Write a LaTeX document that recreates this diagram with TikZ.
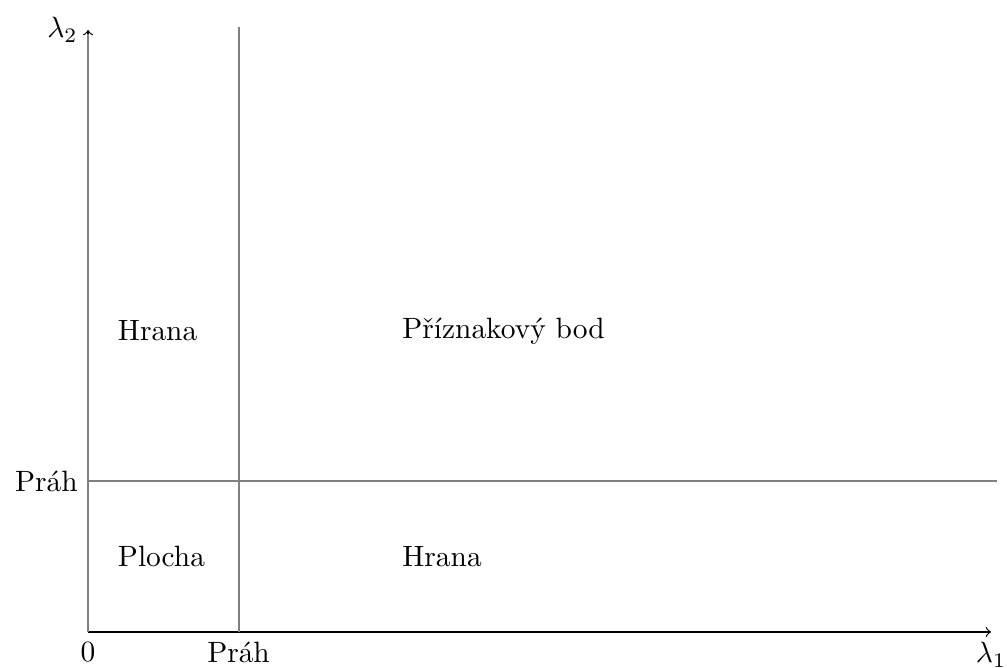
\documentclass[tikz,border=0pt]{standalone}
\begin{document}
\begin{tikzpicture}[x=1.8cm,y=1.8cm,
  thr/.style={draw=gray,line width=0.7pt},
  axis/.style={->,black},
  region/.style={anchor=west}]
\useasboundingbox (-0.585,-0.239) rectangle (6.106,4.199);
\coordinate (O) at (0,0);
\coordinate (X) at (6,0);
\coordinate (Y) at (0,4);
\coordinate (Ys) at (0,3.97);
\coordinate (T1) at (1,0);
\coordinate (T1t) at (1,4.02);
\coordinate (T2) at (0,1);
\coordinate (T2r) at (6.04,1);
\draw[axis] (O) -- (X);
\draw[axis] (O) -- (Y);
\draw[thr] (O) -- (Ys);
\draw[thr] (T1) -- (T1t);
\draw[thr] (T2) -- (T2r);
\node[below] (l1) at (X) {$\lambda_1$};
\node[left] (l2) at (Y) {$\lambda_2$};
\node[below] (zero) at (O) {0};
\node[below] (px) at (T1) {Práh};
\node[left] (py) at (T2) {Práh};
\node[region] (h1) at (0.13,2) {Hrana};
\node[region] (pb) at (2.02,2) {Příznakový bod};
\node[region] (pl) at (0.13,0.5) {Plocha};
\node[region] (h2) at (2.02,0.5) {Hrana};
\end{tikzpicture}
\end{document}
